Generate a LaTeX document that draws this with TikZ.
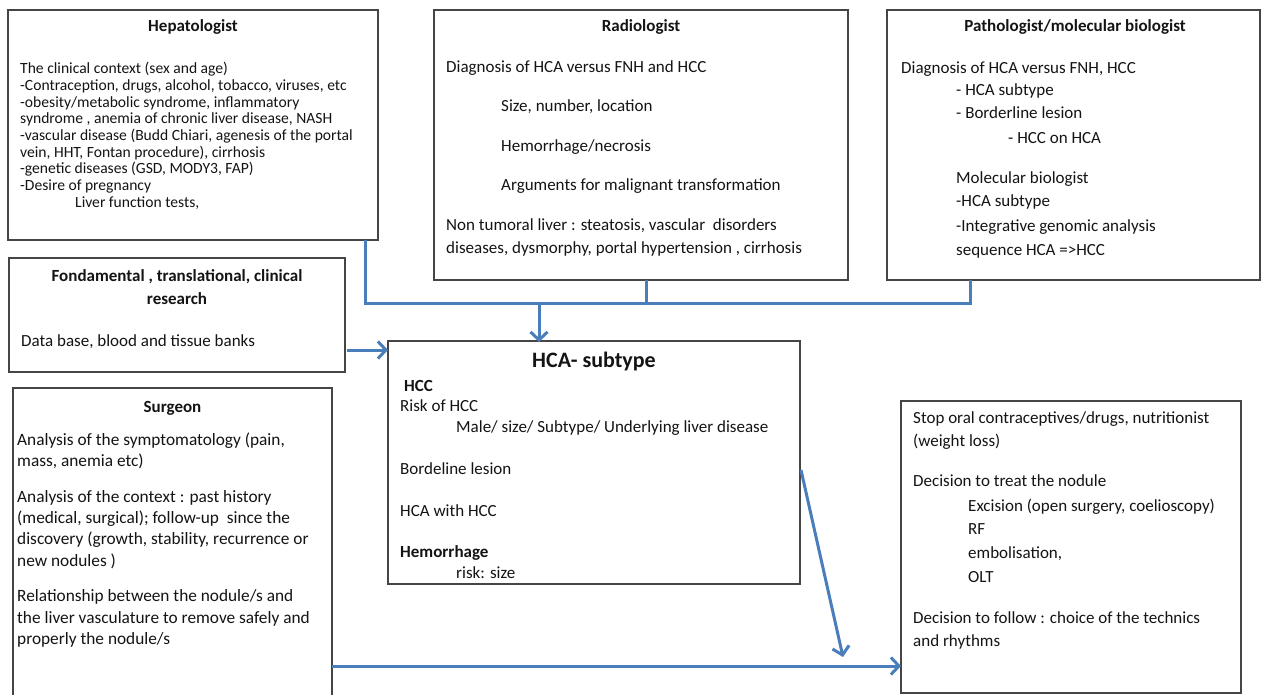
\documentclass[tikz,border=0pt]{standalone}
\usepackage{fontspec}
\setmainfont{Carlito}
\usetikzlibrary{arrows.meta}
\definecolor{linkblue}{HTML}{4A7EBB}
\definecolor{bord}{HTML}{454545}
\definecolor{ink}{HTML}{141414}
\tikzset{
 box/.style={draw=bord, line width=1.2pt, fill=white, anchor=north west, inner sep=0pt, outer sep=0pt},
 txt/.style={anchor=base west, inner sep=0pt, text=ink, font=\fontsize{17}{20}\selectfont},
 stxt/.style={txt, font=\fontsize{17.3}{20}\selectfont},
 htxt/.style={txt, font=\fontsize{15.6}{18}\selectfont},
 btxt/.style={txt, font=\fontsize{17}{20}\selectfont\bfseries},
 ttl/.style={anchor=base, inner sep=0pt, text=ink, font=\fontsize{17}{20}\selectfont\bfseries},
 link/.style={draw=linkblue, line width=3pt},
 arr/.style={link, -{Straight Barb[length=8pt,width=17pt]}},
}
\begin{document}
\begin{tikzpicture}[x=1pt,y=-1pt]
\useasboundingbox (0,0) rectangle (1261,695);

% boxes
\node[box, minimum width=370pt, minimum height=230pt] (hep) at (8,10) {};
\node[box, minimum width=414pt, minimum height=270pt] (rad) at (434,10) {};
\node[box, minimum width=373pt, minimum height=270pt] (pat) at (887,10) {};
\node[box, minimum width=336pt, minimum height=114pt] (fund) at (9,258) {};
\node[box, minimum width=412pt, minimum height=243pt] (hca) at (388,341) {};
\node[box, minimum width=319pt, minimum height=320pt] (surg) at (13,388) {};
\node[box, minimum width=340pt, minimum height=292pt] (dec) at (901,401) {};

% Hepatologist
\node[ttl] (hT) at (193,32) {Hepatologist};
\node[htxt] (h1) at (20,74) {The clinical context (sex and age)};
\node[htxt] (h2) at (20,90.7) {-Contraception, drugs, alcohol, tobacco, viruses, etc};
\node[htxt] (h3) at (20,107.3) {-obesity/metabolic syndrome, inflammatory};
\node[htxt] (h4) at (20,124) {syndrome , anemia of chronic liver disease, NASH};
\node[htxt] (h5) at (20,140.6) {-vascular disease (Budd Chiari, agenesis of the portal};
\node[htxt] (h6) at (20,157.3) {vein, HHT, Fontan procedure), cirrhosis};
\node[htxt] (h7) at (20,173.9) {-genetic diseases (GSD, MODY3, FAP)};
\node[htxt] (h8) at (20,190.6) {-Desire of pregnancy};
\node[htxt] (h9) at (75,207.2) {Liver function tests,};

% Radiologist
\node[ttl] (rT) at (641,32) {Radiologist};
\node[txt] (r1) at (446,72.5) {Diagnosis of HCA versus FNH and HCC};
\node[txt] (r2) at (501,112) {Size, number, location};
\node[txt] (r3) at (501,152) {Hemorrhage/necrosis};
\node[txt] (r4) at (501,191) {Arguments for malignant transformation};
\node[txt] (r5) at (446,231) {Non tumoral liver : steatosis, vascular\ \ disorders};
\node[txt] (r6) at (446,254) {diseases, dysmorphy, portal hypertension , cirrhosis};

% Pathologist
\node[ttl] (pT) at (1075,32) {Pathologist/molecular biologist};
\node[txt] (p1) at (901,74) {Diagnosis of HCA versus FNH, HCC};
\node[txt] (p2) at (956,96) {- HCA subtype};
\node[txt] (p3) at (956,119) {- Borderline lesion};
\node[txt] (p4) at (1008,144) {- HCC on HCA};
\node[txt] (p5) at (956,184) {Molecular biologist};
\node[txt] (p6) at (956,207) {-HCA subtype};
\node[txt] (p7) at (956,232) {-Integrative genomic analysis};
\node[txt] (p8) at (956,255) {sequence HCA =>HCC};

% Fundamental research
\node[ttl] (fT1) at (177,281) {Fondamental , translational, clinical};
\node[ttl] (fT2) at (177,304) {research};
\node[txt] (f1) at (21,346) {Data base, blood and tissue banks};

% HCA subtype
\node[anchor=base, inner sep=0pt, text=ink, font=\fontsize{22}{26}\selectfont\bfseries] (cT) at (594,367) {HCA- subtype};
\node[btxt] (c1) at (404,391) {HCC};
\node[txt] (c2) at (400,411) {Risk of HCC};
\node[txt] (c3) at (456,432) {Male/ size/ Subtype/ Underlying liver disease};
\node[txt] (c4) at (400,474) {Bordeline lesion};
\node[txt] (c5) at (400,516) {HCA with HCC};
\node[btxt] (c6) at (400,557) {Hemorrhage};
\node[txt] (c7) at (456,578) {risk: size};

% Surgeon
\node[ttl] (sT) at (172.5,412) {Surgeon};
\node[stxt] (s1) at (17,445) {Analysis of the symptomatology (pain,};
\node[stxt] (s2) at (17,466) {mass, anemia etc)};
\node[stxt] (s3) at (17,502) {Analysis of the context : past history};
\node[stxt] (s4) at (17,523) {(medical, surgical); follow-up\ \ since the};
\node[stxt] (s5) at (17,544) {discovery (growth, stability, recurrence or};
\node[stxt] (s6) at (17,566) {new nodules )};
\node[stxt] (s7) at (17,601) {Relationship between the nodule/s and};
\node[stxt] (s8) at (17,623) {the liver vasculature to remove safely and};
\node[stxt] (s9) at (17,644) {properly the nodule/s};

% Decision box
\node[txt] (d1) at (913,423) {Stop oral contraceptives/drugs, nutritionist};
\node[txt] (d2) at (913,446) {(weight loss)};
\node[txt] (d3) at (913,486) {Decision to treat the nodule};
\node[txt] (d4) at (968,511) {Excision (open surgery, coelioscopy)};
\node[txt] (d5) at (968,534) {RF};
\node[txt] (d6) at (968,558) {embolisation,};
\node[txt] (d7) at (968,582) {OLT};
\node[txt] (d8) at (913,623) {Decision to follow : choice of the technics};
\node[txt] (d9) at (913,646) {and rhythms};

% connectors
\coordinate (jL) at (365,303);
\coordinate (jR) at (970,303);
\coordinate (jM) at (539,303);
\coordinate (jRad) at (646,303);
\draw[link] (jL |- hep.south) -- (jL) -- (jR) -- (jR |- pat.south);
\draw[link] (jRad |- rad.south) -- (jRad);
\draw[arr] (jM) -- ([yshift=-1pt]jM |- hca.north);

\coordinate (fa) at (347,350);
\draw[arr] (fa) -- (fa -| hca.west);

\coordinate (da) at (801,470);
\coordinate (db) at (843,657);
\draw[arr] (da) -- (db);

\coordinate (sa) at (332,666);
\draw[arr] (sa) -- (sa -| dec.west);
\end{tikzpicture}
\end{document}
